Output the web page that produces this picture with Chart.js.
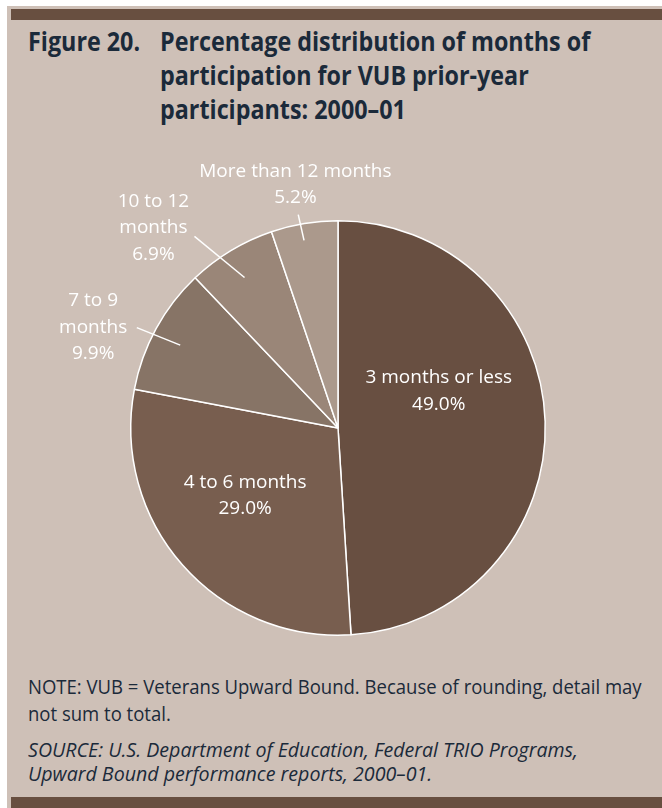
<!DOCTYPE html>
<html>
<head>
<meta charset="utf-8">
<title>Figure 20</title>
<script src="https://cdn.jsdelivr.net/npm/chart.js@4.4.1/dist/chart.umd.min.js"></script>
<style>
  body { margin: 0; width: 662px; height: 808px; background: #fff; position: relative; overflow: hidden; }
  #panel { position: absolute; left: 7px; top: 6px; width: 655px; height: 802px; background: #cec0b7; }
  .band { position: absolute; left: 11px; width: 651px; background: #684f40; }
  .head { position: absolute; font-family: "Open Sans", sans-serif; font-weight: bold; font-size: 27px; line-height: 34px; color: #1b2a3a; margin: 0; white-space: nowrap; transform: scaleX(0.863); transform-origin: 0 0; }
  #chartBox { position: absolute; left: 0; top: 140px; width: 662px; height: 520px; }
  .foot { position: absolute; left: 28px; margin: 0; font-family: "Open Sans", sans-serif; font-size: 20px; color: #1b2a3a; white-space: nowrap; transform-origin: 0 0; }
</style>
</head>
<body>
<div id="panel"></div>
<div class="band" style="top:9px;height:11px"></div>
<div class="band" style="top:797px;height:11px"></div>
<p class="head" style="left:28px;top:24px">Figure 20.</p>
<p class="head" style="left:160px;top:24px">Percentage distribution of months of<br>participation for VUB prior-year<br>participants: 2000–01</p>
<div id="chartBox"><canvas id="pie"></canvas></div>
<p class="foot" style="top:674px;line-height:26.5px;transform:scaleX(0.926)">NOTE: VUB = Veterans Upward Bound. Because of rounding, detail may<br>not sum to total.</p>
<p class="foot" style="top:738px;line-height:24px;font-style:italic;transform:scaleX(0.98)">SOURCE: U.S. Department of Education, Federal TRIO Programs,<br>Upward Bound performance reports, 2000–01.</p>
<script>
const categories = ["3 months or less", "4 to 6 months", "7 to 9 months", "10 to 12 months", "More than 12 months"];
const percents = [49.0, 29.0, 9.9, 6.9, 5.2];
// label text as it is broken over lines (the percentage goes underneath)
const labelLines = [["3 months or less"], ["4 to 6 months"], ["7 to 9", "months"], ["10 to 12", "months"], ["More than 12 months"]];
const sliceColors = ["#684f41", "#785e4f", "#877466", "#9a8678", "#ab998c"];

// where each label sits: radius as a share of the pie radius, angle shift in degrees
// from the slice middle; outside labels also get a leader line
const labelPlace = [
  { r: 0.52, shift: -19 },
  { r: 0.55, shift: 6 },
  { r: 1.28, shift: -6, lead: [0.86, -0.9, 1.085, -2.1] },
  { r: 1.32, shift: -11.3, lead: [0.855, -0.7, 1.155, -5.7] },
  { r: 1.2, shift: -0.5, lead: [0.92, -0.9, 1.047, -1.2] }
];

const deg = Math.PI / 180;

const sliceLabels = {
  id: "sliceLabels",
  afterDatasetsDraw(chart) {
    const ctx = chart.ctx;
    const arcs = chart.getDatasetMeta(0).data;
    ctx.save();
    ctx.fillStyle = "#fff";
    ctx.strokeStyle = "#fff";
    ctx.lineWidth = 1.5;
    ctx.font = "19px 'Open Sans', sans-serif";
    ctx.textAlign = "center";
    ctx.textBaseline = "middle";
    arcs.forEach((arc, i) => {
      const p = labelPlace[i];
      const mid = (arc.startAngle + arc.endAngle) / 2;
      const R = arc.outerRadius;
      if (p.lead) {
        const a1 = mid + p.lead[1] * deg, a2 = mid + p.lead[3] * deg;
        ctx.beginPath();
        ctx.moveTo(arc.x + Math.cos(a1) * R * p.lead[0], arc.y + Math.sin(a1) * R * p.lead[0]);
        ctx.lineTo(arc.x + Math.cos(a2) * R * p.lead[2], arc.y + Math.sin(a2) * R * p.lead[2]);
        ctx.stroke();
      }
      const a = mid + p.shift * deg;
      const cx = arc.x + Math.cos(a) * R * p.r;
      const cy = arc.y + Math.sin(a) * R * p.r;
      const lines = labelLines[i].concat([percents[i].toFixed(1) + "%"]);
      const lh = 26.5;
      lines.forEach((t, k) => {
        ctx.fillText(t, cx, cy + 1.5 + (k - (lines.length - 1) / 2) * lh);
      });
    });
    ctx.restore();
  }
};

new Chart(document.getElementById("pie"), {
  type: "pie",
  data: {
    labels: categories,
    datasets: [{
      data: percents,
      backgroundColor: sliceColors,
      borderColor: "#fff",
      borderWidth: 1.5
    }]
  },
  options: {
    responsive: true,
    maintainAspectRatio: false,
    animation: false,
    layout: { padding: { left: 130, right: 116, top: 80, bottom: 24 } },
    plugins: {
      legend: { display: false },
      tooltip: { enabled: false }
    }
  },
  plugins: [sliceLabels]
});
</script>
</body>
</html>
